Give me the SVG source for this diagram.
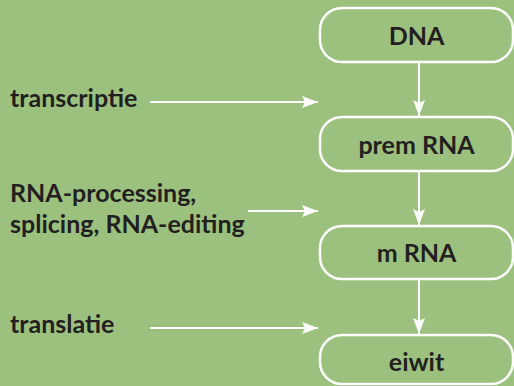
<svg xmlns="http://www.w3.org/2000/svg" width="514" height="386" viewBox="0 0 514 386">
<defs>
<style>
.bg{fill:#9cc17e}
.box{fill:#9cc17e;stroke:#ffffff;stroke-width:2.5}
.t{font-family:Lato,"Open Sans","Liberation Sans",sans-serif;font-weight:700;font-size:25px;fill:#231f20}
.c{text-anchor:middle}
.ln{stroke:#ffffff;stroke-width:2;fill:none}
</style>
<marker id="ah" viewBox="0 0 16 12" refX="16" refY="6" markerWidth="16" markerHeight="12" markerUnits="userSpaceOnUse" orient="auto">
<path d="M0,0 L16,6 L0,12 L3,6 Z" fill="#ffffff"/>
</marker>
</defs>
<rect class="bg" x="0" y="0" width="514" height="386"/>
<g id="connectors">
<line class="ln" x1="419" y1="62" x2="419" y2="116" marker-end="url(#ah)"/>
<line class="ln" x1="419" y1="171" x2="419" y2="225" marker-end="url(#ah)"/>
<line class="ln" x1="419" y1="279" x2="419" y2="334" marker-end="url(#ah)"/>
<line class="ln" x1="150" y1="102" x2="318" y2="102" marker-end="url(#ah)"/>
<line class="ln" x1="248" y1="211" x2="318" y2="211" marker-end="url(#ah)"/>
<line class="ln" x1="150" y1="328" x2="318" y2="328" marker-end="url(#ah)"/>
</g>
<g id="dna">
<rect class="box" x="320" y="8" width="193" height="54" rx="22"/>
<text class="t c" x="416.5" y="45">DNA</text>
</g>
<g id="premrna">
<rect class="box" x="320" y="117" width="193" height="54" rx="22"/>
<text class="t c" x="416.5" y="154">prem RNA</text>
</g>
<g id="mrna">
<rect class="box" x="320" y="226" width="193" height="53" rx="22"/>
<text class="t c" x="416.5" y="262">m RNA</text>
</g>
<g id="eiwit">
<rect class="box" x="320" y="335" width="193" height="49" rx="22"/>
<text class="t c" x="416.5" y="371">eiwit</text>
</g>
<g id="label-transcriptie">
<text class="t" x="10" y="107">transcriptie</text>
</g>
<g id="label-processing">
<text class="t" x="10" y="202">RNA-processing,</text>
<text class="t" x="10" y="233">splicing, RNA-editing</text>
</g>
<g id="label-translatie">
<text class="t" x="10" y="333">translatie</text>
</g>
</svg>
